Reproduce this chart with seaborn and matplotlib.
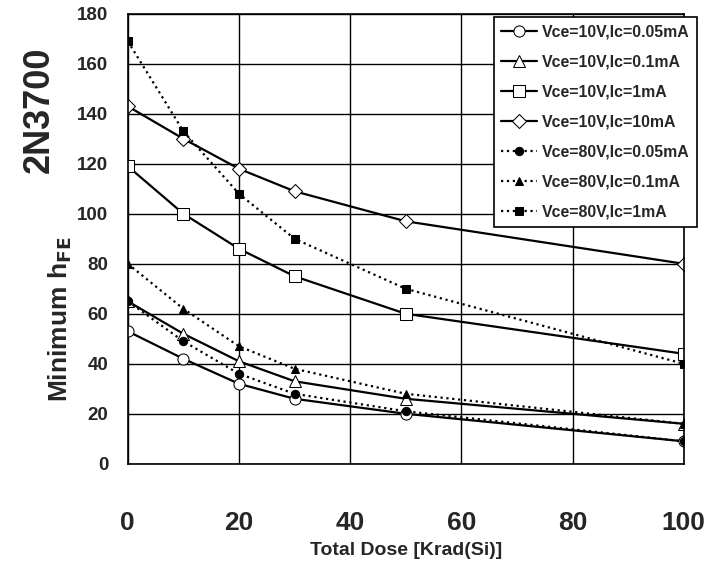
import pandas as pd
import matplotlib.pyplot as plt
import seaborn as sns

# Dades: hFE mínim vs dosi total
dose = [0, 10, 20, 30, 50, 100]
hfe_10v_005ma = [53, 42, 32, 26, 20, 9]
hfe_10v_01ma = [65, 52, 41, 33, 26, 16]
hfe_10v_1ma = [119, 100, 86, 75, 60, 44]
hfe_10v_10ma = [143, 130, 118, 109, 97, 80]
hfe_80v_005ma = [65, 49, 36, 28, 21, 9]
hfe_80v_01ma = [80, 62, 47, 38, 28, 16]
hfe_80v_1ma = [169, 133, 108, 90, 70, 40]

series = [
    ("Vce=10V,Ic=0.05mA", hfe_10v_005ma),
    ("Vce=10V,Ic=0.1mA", hfe_10v_01ma),
    ("Vce=10V,Ic=1mA", hfe_10v_1ma),
    ("Vce=10V,Ic=10mA", hfe_10v_10ma),
    ("Vce=80V,Ic=0.05mA", hfe_80v_005ma),
    ("Vce=80V,Ic=0.1mA", hfe_80v_01ma),
    ("Vce=80V,Ic=1mA", hfe_80v_1ma),
]
df = pd.concat([pd.DataFrame({"dose": dose, "hfe": v, "serie": n}) for n, v in series])

# estil de cada sèrie
estils = {
    "Vce=10V,Ic=0.05mA": dict(marker="o", ls="-", mfc="white", ms=8),
    "Vce=10V,Ic=0.1mA": dict(marker="^", ls="-", mfc="white", ms=8),
    "Vce=10V,Ic=1mA": dict(marker="s", ls="-", mfc="white", ms=9),
    "Vce=10V,Ic=10mA": dict(marker="D", ls="-", mfc="white", ms=7),
    "Vce=80V,Ic=0.05mA": dict(marker="o", ls=":", mfc="black", ms=6),
    "Vce=80V,Ic=0.1mA": dict(marker="^", ls=":", mfc="black", ms=6),
    "Vce=80V,Ic=1mA": dict(marker="s", ls=":", mfc="black", ms=6),
}

sns.set_style("white")
fam = ["Liberation Sans Narrow", "Liberation Sans", "DejaVu Sans"]
plt.rcParams["font.family"] = fam
plt.rcParams["font.weight"] = "bold"

fig = plt.figure(figsize=(7.22, 5.74), dpi=100)
ax = fig.add_axes([0.177, 0.192, 0.77, 0.784])

for nom, _ in series:
    e = estils[nom]
    sns.lineplot(data=df[df["serie"] == nom], x="dose", y="hfe", ax=ax, color="black",
                 marker=e["marker"], linestyle=e["ls"], markerfacecolor=e["mfc"],
                 markeredgecolor="black", markersize=e["ms"], linewidth=1.6,
                 label=nom)

ax.set_xlim(0, 100)
ax.set_ylim(0, 180)
ax.set_xticks(range(0, 101, 20))
ax.set_yticks(range(0, 181, 20))
ax.grid(True, color="black", linewidth=1.0)
ax.tick_params(axis="x", labelsize=19, direction="inout", length=8, width=1.2, pad=30)
ax.tick_params(axis="y", labelsize=13.5, direction="inout", length=8, width=1.2, pad=10)
for s in ax.spines.values():
    s.set_color("black")
    s.set_linewidth(1.2)

ax.set_xlabel("Total Dose [Krad(Si)]", fontsize=14, fontweight="bold", labelpad=5)
ax.set_ylabel(r"Minimum h$_{\mathbf{FE}}$", fontsize=19, fontweight="bold")
ax.yaxis.set_label_coords(-0.097, 0.32)

fig.text(0.055, 0.808, "2N3700", rotation=90, fontsize=26, fontweight="bold",
         family=["Liberation Sans", "DejaVu Sans"], ha="center", va="center")

leg = ax.legend(loc="upper right", bbox_to_anchor=(1.024, 0.992), borderaxespad=0,
                fontsize=11.4, frameon=True, fancybox=False, edgecolor="black",
                framealpha=1, handlelength=2.3, handletextpad=0.3, borderpad=0.45,
                labelspacing=0.95)
leg.get_frame().set_linewidth(1.2)

plt.savefig("out.png", dpi=100)
